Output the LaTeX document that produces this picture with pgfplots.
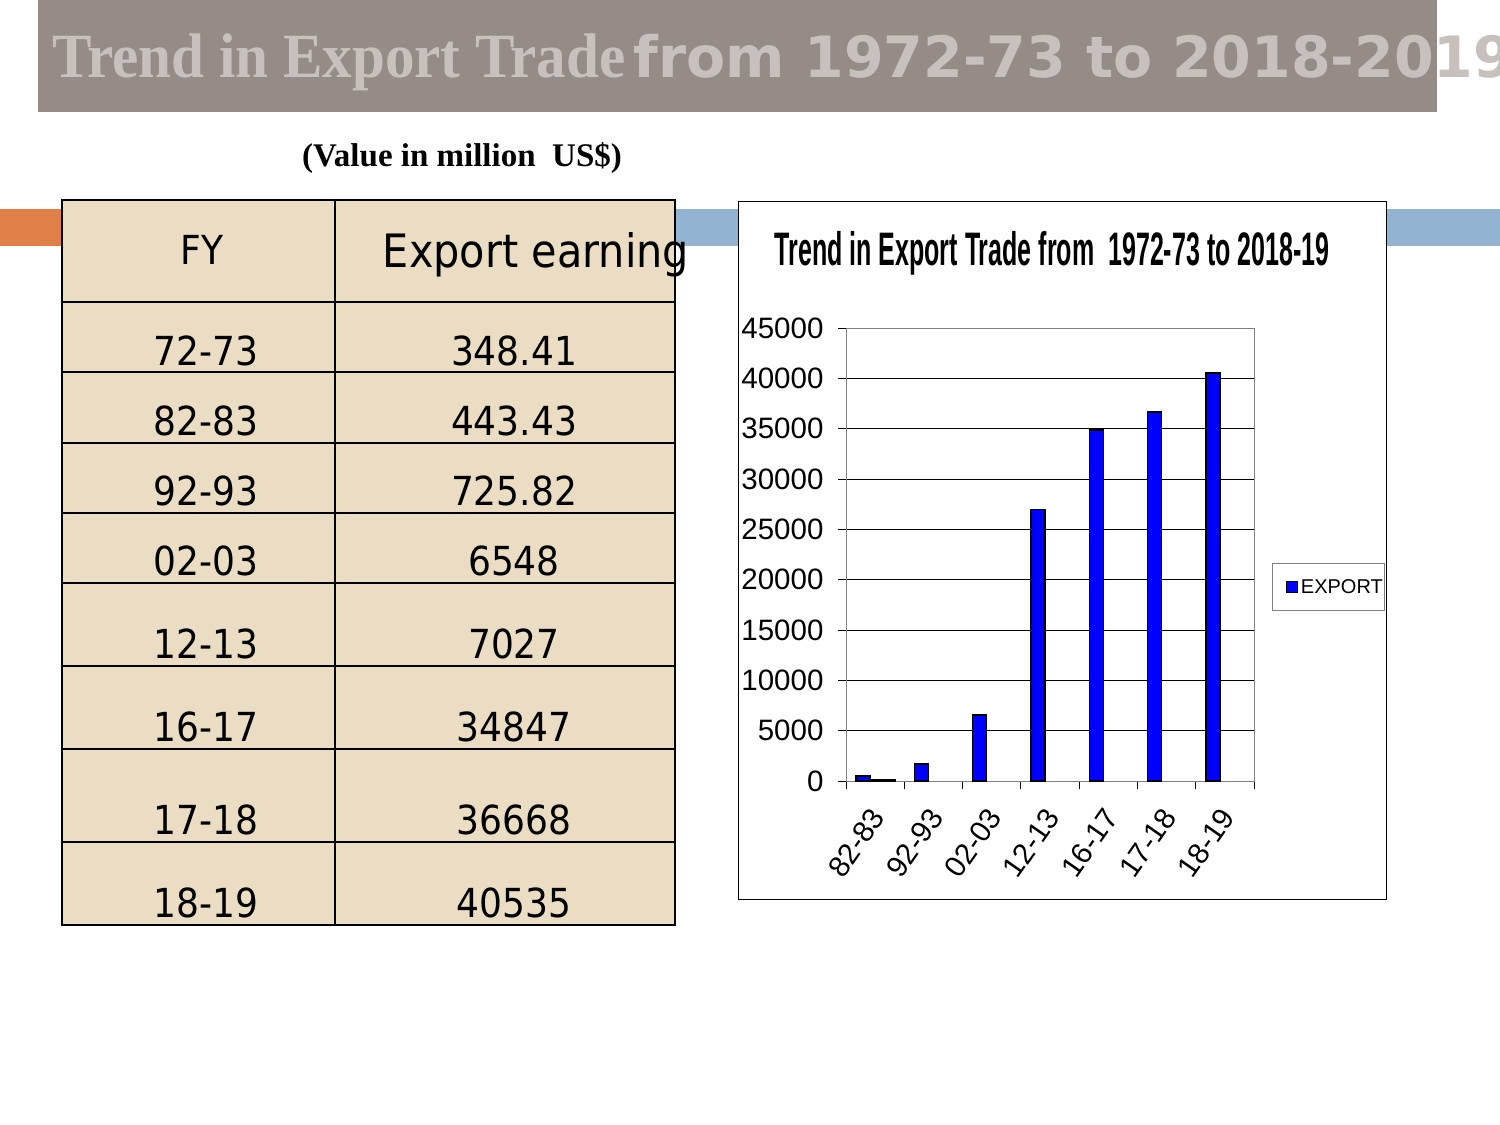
\documentclass[border=0pt]{standalone}
\usepackage{fontspec}
\setmainfont{Liberation Sans}
\newfontfamily\serif{Liberation Serif}
\newfontfamily\dejavu{DejaVu Sans}
\newfontfamily\dejavuc[FakeStretch=0.9]{DejaVu Sans}
\usepackage{graphicx}
\usepackage{pgfplots}
\pgfplotsset{compat=1.18}
\definecolor{banner}{HTML}{968C87}
\definecolor{bannertext}{HTML}{C8C0BD}
\definecolor{tablefill}{HTML}{EBDDC3}
\definecolor{orangebar}{HTML}{DE8047}
\definecolor{bluebar}{HTML}{93B4D0}

\begin{document}
\begin{tikzpicture}
\useasboundingbox (0pt,0pt) rectangle (1500pt,-1125pt);
\fill[white] (0pt,0pt) rectangle (1500pt,-1125pt);
\begin{scope}[x=1pt,y=-1pt]
  % title banner
  \fill[banner] (38,0) rectangle (1437,112);
  \node[anchor=base west, inner sep=0, text=bannertext] at (52,77)
    {\fontsize{63}{70}\serif\bfseries\resizebox{573pt}{\height}{Trend in Export Trade}};
  \node[anchor=base west, inner sep=0, text=bannertext] at (633,77)
    {\fontsize{57}{70}\dejavu\bfseries from 1972-73 to 2018-2019};
  \node[anchor=base, inner sep=0] at (462,166)
    {\fontsize{33}{36}\serif\bfseries (Value in million\ \ US\$)};
  % decorative strips
  \fill[orangebar] (0,209) rectangle (62,246);
  \fill[bluebar] (675,209) rectangle (738,246);
  \fill[bluebar] (1387,209) rectangle (1500,246);
  % table
  \fill[tablefill] (62,200) rectangle (675,925);
  \foreach \y in {302,372,443,513,583,666,749,842}
    \draw[line width=2] (62,\y) -- (675,\y);
  \draw[line width=2] (335,200) -- (335,925);
  \draw[line width=2] (62,200) rectangle (675,925);
  \node[anchor=base, inner sep=0] at (202,264) {\fontsize{40}{44}\dejavuc FY};
  \node[anchor=base, inner sep=0] at (536,267) {\fontsize{46}{50}\dejavuc Export earning};
  \foreach \fy/\val/\b in {72-73/348.41/365, 82-83/443.43/435, 92-93/725.82/505,
      02-03/6548/575, 12-13/7027/658, 16-17/34847/741, 17-18/36668/834, 18-19/40535/917} {
    \node[anchor=base, inner sep=0] at (206,\b) {\fontsize{40}{44}\dejavuc \fy};
    \node[anchor=base, inner sep=0] at (514,\b) {\fontsize{40}{44}\dejavuc \val};
  }
  % chart frame
  \draw[fill=white, line width=1] (738,201) rectangle (1386,899);
  \node[anchor=base, inner sep=0] at (1052,265)
    {\fontsize{47}{50}\bfseries\resizebox{555pt}{\height}{Trend in Export Trade from\ \ 1972-73 to 2018-19}};
\end{scope}

\begin{axis}[
  at={(846pt,-781pt)}, anchor=south west,
  width=408pt, height=453pt, scale only axis,
  xmin=-0.5, xmax=6.5, ymin=0, ymax=45000,
  ytick={0,5000,...,45000},
  xtick={-0.5,0.5,...,6.5}, xticklabels={},
  extra x ticks={0,1,2,3,4,5,6},
  extra x tick labels={82-83,92-93,02-03,12-13,16-17,17-18,18-19},
  extra x tick style={major tick length=0pt,
    tick label style={xshift=3pt, yshift=-31pt, rotate=55, anchor=east, inner sep=0pt}},
  ticklabel style={font=\fontsize{29.5}{31}\selectfont},
  yticklabel style={xshift=-11pt},
  /pgf/number format/assume math mode=true,
  /pgf/number format/1000 sep={},
  scaled y ticks=false,
  ymajorgrids, major grid style={black, line width=1pt},
  axis line style={gray, line width=1pt},
  tick style={black, line width=1pt},
  tick align=outside, major tick length=8pt, tick pos=left,
  legend style={at={(1.044,0.428)}, anchor=west, draw=gray, line width=1pt,
    font=\fontsize{20}{22}\selectfont, inner xsep=0pt, inner ysep=14pt},
  legend cell align=left,
]
\addplot[ybar, bar width=14pt, bar shift=-12pt, fill=blue, draw=black, line width=1.5pt,
  legend image code/.code={\path (0pt,0pt) (25pt,0pt);
    \draw[fill=blue, draw=black, line width=1pt] (13pt,-5.5pt) rectangle (24pt,5.5pt);}]
  coordinates {(0,500) (1,1700) (2,6550) (3,26950) (4,34847) (5,36668) (6,40535)};
\addlegendentry{EXPORT}
\addplot[ybar, bar width=24pt, bar shift=8pt, fill=black, draw=black, forget plot]
  coordinates {(0,180)};
\end{axis}
\end{tikzpicture}
\end{document}
